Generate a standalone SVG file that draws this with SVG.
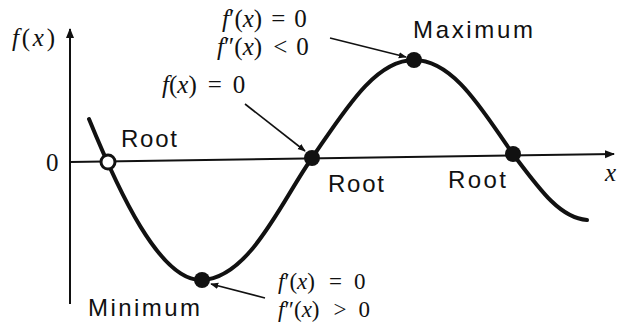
<svg xmlns="http://www.w3.org/2000/svg" width="619" height="327" viewBox="0 0 619 327">
<style>
.ax{stroke:#111;stroke-width:2;fill:none}
.cv{stroke:#111;stroke-width:4;fill:none;stroke-linecap:round}
.ar{stroke:#111;stroke-width:1.6;fill:none}
.pt{fill:#111}
.s{font-family:"Liberation Sans",Arial,sans-serif;font-size:24px;fill:#111}
.m{font-family:"Liberation Serif","Times New Roman",serif;font-size:25px;fill:#111}
.b{font-size:23px}
.i{font-style:italic}
</style>
<defs>
<marker id="ah" viewBox="0 0 10 10" refX="9" refY="5" markerWidth="8" markerHeight="8" orient="auto" markerUnits="userSpaceOnUse">
<path d="M0,1 L10,5 L0,9 z" fill="#111"/>
</marker>
<marker id="axh" viewBox="0 0 10 10" refX="9" refY="5" markerWidth="10" markerHeight="10" orient="auto" markerUnits="userSpaceOnUse">
<path d="M0,1 L10,5 L0,9 z" fill="#111"/>
</marker>
</defs>
<rect width="619" height="327" fill="#fff"/>
<g id="axes">
<line class="ax" x1="70" y1="304" x2="70" y2="29" marker-end="url(#axh)"/>
<line class="ax" x1="70" y1="162" x2="614" y2="154" marker-end="url(#axh)"/>
</g>
<g id="curve">
<path class="cv" d="M89 119 C118 190,160 282,202 280 C250 278,282 200,312 158 C345 110,375 60,414 60 C455 60,485 115,513 154 C540 190,560 218,587 220"/>
</g>
<g id="root1"><circle cx="108" cy="162" r="7" fill="#fff" stroke="#111" stroke-width="3"/></g>
<g id="root2"><circle class="pt" cx="312" cy="158" r="8"/></g>
<g id="root3"><circle class="pt" cx="513" cy="154" r="8"/></g>
<g id="maximum"><circle class="pt" cx="414" cy="60" r="8"/></g>
<g id="minimum"><circle class="pt" cx="202" cy="280" r="8"/></g>
<g id="connectors">
<line class="ar" x1="330" y1="38" x2="406" y2="57" marker-end="url(#ah)"/>
<line class="ar" x1="245" y1="104" x2="305" y2="151" marker-end="url(#ah)"/>
<line class="ar" x1="265" y1="298" x2="211" y2="284" marker-end="url(#ah)"/>
</g>
<g id="labels">
<text class="m" x="12" y="46" textLength="43" lengthAdjust="spacing"><tspan class="i">f</tspan>(<tspan class="i">x</tspan>)</text>
<text class="m" x="46" y="171">0</text>
<text class="m i" x="605" y="181">x</text>
<text class="s" x="121" y="147" textLength="56" lengthAdjust="spacing">Root</text>
<text class="s" x="328" y="192" textLength="56" lengthAdjust="spacing">Root</text>
<text class="s" x="448" y="188" textLength="58" lengthAdjust="spacing">Root</text>
<text class="s" x="413" y="38" textLength="120" lengthAdjust="spacing">Maximum</text>
<text class="s" x="88" y="316" textLength="112" lengthAdjust="spacing">Minimum</text>
<text class="m" x="222" y="27"><tspan class="i">f</tspan>′(<tspan class="i">x</tspan>)<tspan dx="9">=</tspan><tspan dx="9">0</tspan></text>
<text class="m" x="217" y="55"><tspan class="i">f</tspan>″(<tspan class="i">x</tspan>)<tspan dx="11">&lt;</tspan><tspan dx="9">0</tspan></text>
<text class="m" x="162" y="93"><tspan class="i">f</tspan>(<tspan class="i">x</tspan>)<tspan dx="11">=</tspan><tspan dx="11">0</tspan></text>
<text class="m b" x="278" y="289"><tspan class="i">f</tspan>′(<tspan class="i">x</tspan>)<tspan dx="14">=</tspan><tspan dx="12">0</tspan></text>
<text class="m b" x="278" y="317"><tspan class="i">f</tspan>″(<tspan class="i">x</tspan>)<tspan dx="14">&gt;</tspan><tspan dx="12">0</tspan></text>
</g>
</svg>
